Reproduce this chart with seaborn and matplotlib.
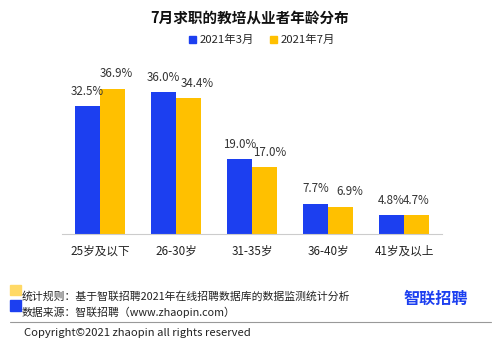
import matplotlib
matplotlib.use("Agg")
import matplotlib.pyplot as plt
import matplotlib.patches as mpatches
import seaborn as sns
import pandas as pd

categories = ["25岁及以下", "26-30岁", "31-35岁", "36-40岁", "41岁及以上"]
series_names = ["2021年3月", "2021年7月"]
mar_values = [32.5, 36.0, 19.0, 7.7, 4.8]
jul_values = [36.9, 34.4, 17.0, 6.9, 4.7]
colors = ["#1c3ff0", "#ffc000"]

title = "7月求职的教培从业者年龄分布"
note1 = "统计规则：基于智联招聘2021年在线招聘数据库的数据监测统计分析"
note2 = "数据来源：智联招聘（www.zhaopin.com）"
copyright_text = "Copyright©2021 zhaopin all rights reserved"
logo_text = "智联招聘"

# horizontal nudges of the value labels (points), as in the reference
label_dx = [[0, 0, 0, 0, 0], [3, 6, 4, 7, 0]]

sns.set_theme(style="white")
plt.rcParams["font.family"] = ["Noto Sans CJK SC", "DejaVu Sans"]

df = pd.DataFrame({
    "category": categories * 2,
    "series": [series_names[0]] * len(categories) + [series_names[1]] * len(categories),
    "value": mar_values + jul_values,
})

fig = plt.figure(figsize=(4.99, 3.45), dpi=100)
ax = fig.add_axes([62 / 499, 1 - 234 / 345, 380 / 499, (234 - 76.4) / 345])

sns.barplot(data=df, x="category", y="value", hue="series", palette=colors,
            width=0.66, gap=0, ax=ax, legend=False, saturation=1, linewidth=0)

for ci, cont in enumerate(ax.containers):
    for bi, (bar, v) in enumerate(zip(cont, cont.datavalues)):
        ax.annotate(f"{v:.1f}%", (bar.get_x() + bar.get_width() / 2, bar.get_height()),
                    xytext=(label_dx[ci][bi], 6), textcoords="offset points",
                    ha="center", va="bottom", fontsize=8.3, color="#333333")

ax.set_ylim(0, 40)
ax.set_xlim(-0.5, 4.5)
ax.set_xlabel("")
ax.set_ylabel("")
ax.set_yticks([])
for s in ["top", "right", "left"]:
    ax.spines[s].set_visible(False)
ax.spines["bottom"].set_color("#cccccc")
ax.spines["bottom"].set_linewidth(0.8)
ax.tick_params(axis="x", which="major", length=0, labelsize=8.4, pad=8, labelcolor="#222222")
ax.set_xticks([i - 0.5 for i in range(len(categories) + 1)], minor=True)
ax.tick_params(axis="x", which="minor", length=3, color="#cccccc", width=0.8)

fig.text(0.5, 1 - 18 / 345, title, ha="center", va="center", fontsize=10.5,
         fontweight="bold", color="#111111")

handles = [mpatches.Patch(color=c, label=n) for c, n in zip(colors, series_names)]
fig.legend(handles=handles, loc="center", bbox_to_anchor=(262 / 499, 1 - 40 / 345),
           ncol=2, frameon=False, fontsize=8.2, handlelength=0.6, handleheight=0.6,
           handletextpad=0.3, columnspacing=1.4)

# footer
fig.patches.append(mpatches.Rectangle((10 / 499, 1 - 295 / 345), 11 / 499, 10 / 345,
                                      transform=fig.transFigure, color="#ffd966"))
fig.patches.append(mpatches.Rectangle((10 / 499, 1 - 311 / 345), 11 / 499, 11 / 345,
                                      transform=fig.transFigure, color="#1c3ff0"))
fig.text(22 / 499, 1 - 296 / 345, note1, ha="left", va="center", fontsize=7.8, color="#222222")
fig.text(22 / 499, 1 - 312 / 345, note2, ha="left", va="center", fontsize=7.8, color="#222222")
fig.text(436 / 499, 1 - 299 / 345, logo_text, ha="center", va="center", fontsize=11.6,
         fontweight="bold", color="#1c3ff0")
fig.add_artist(plt.Line2D([10 / 499, 491 / 499], [1 - 321.5 / 345, 1 - 321.5 / 345],
                          transform=fig.transFigure, color="#999999", linewidth=0.8))
fig.text(24 / 499, 1 - 333 / 345, copyright_text, ha="left", va="center", fontsize=8.1,
         color="#222222")

fig.savefig("out.png", dpi=100)
